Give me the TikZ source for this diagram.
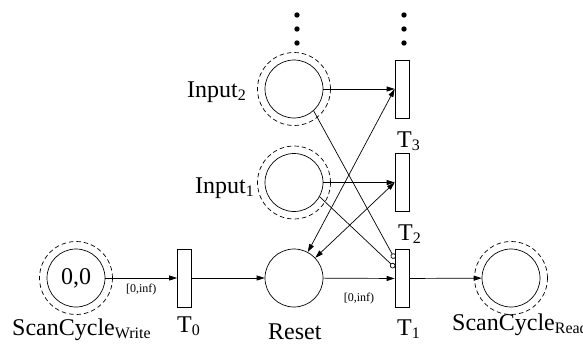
\documentclass[tikz,border=0pt]{standalone}
\usepackage{fontspec}
\setmainfont{Liberation Serif}
\usetikzlibrary{positioning, arrows.meta}

\newcommand{\pnsub}[1]{\raisebox{-3.5pt}{\fontsize{16}{18}\selectfont #1}}

\begin{document}
\begin{tikzpicture}[
      x=1pt, y=-1pt,
      font=\fontsize{24}{28}\selectfont,
      place/.style={circle, draw, minimum size=58pt, inner sep=0pt, line width=0.7pt},
      trans/.style={rectangle, draw, minimum width=14pt, minimum height=58pt,
      inner sep=0pt, line width=0.7pt},
      ring/.style={draw, dashed, dash pattern=on 4.5pt off 3pt, line width=0.7pt},
      arcline/.style={draw, -{Triangle[length=8pt, width=5pt]}, line width=0.7pt},
      biline/.style={arcline, {Triangle[length=8pt, width=5pt]}-{Triangle[length=8pt, width=5pt]}},
      inhib/.style={draw, -{Circle[open, length=5.5pt]}, line width=0.7pt},
      lbl/.style={inner sep=0pt, anchor=base west},
      delay/.style={font=\fontsize{12}{14}\selectfont, inner sep=0pt}
    ]
    \useasboundingbox (0,0) rectangle (583,343);

    % places
    \node [place] (sw) at (76,278) {0,0};
    \node [place] (input2) at (294,89) {};
    \node [place] (input1) at (294,182.5) {};
    \node [place] (reset) at (294,278) {};
    \node [place] (sr) at (511,278) {};
    \draw [ring] (sw) circle[radius=36.5pt];
    \draw [ring] (input2) circle[radius=36.5pt];
    \draw [ring] (input1) circle[radius=36.5pt];
    \draw [ring] (sr) circle[radius=36.5pt];

    % transitions
    \node [trans] (t0) at (184.5,278) {};
    \node [trans] (t1) at (402,278.5) {};
    \node [trans] (t2) at (402,182.5) {};
    \node [trans] (t3) at (402,89) {};

    % labels
    \node [lbl] (swlbl) at (12,335) {ScanCycle\pnsub{Write}};
    \node [lbl] (srlbl) at (452,330) {ScanCycle\pnsub{Read}};
    \node [lbl] (resetlbl) at (268,339) {Reset};
    \node [lbl] (input2lbl) at (187,97) {Input\pnsub{2}};
    \node [lbl] (input1lbl) at (195,193) {Input\pnsub{1}};
    \node [lbl] (t0lbl) at (177,332) {T\pnsub{0}};
    \node [lbl] (t1lbl) at (397,335) {T\pnsub{1}};
    \node [lbl] (t2lbl) at (398,240) {T\pnsub{2}};
    \node [lbl] (t3lbl) at (397,147) {T\pnsub{3}};

    % more inputs above
    \foreach \x in {297,404}
      \foreach \y in {15,29,43}
        \fill (\x,\y) circle[radius=2.7pt];

    \path [arcline] (sw) -- node [delay, yshift=-11.5pt] (d0) {[0,inf)} (t0);
    \path [arcline] (t0) -- (reset);
    \path [arcline] (reset) -- node [delay, yshift=-20.5pt] (d1) {[0,inf)} (t1);
    \path [arcline] (t1) -- (sr);
    \path [arcline] (input2) -- (t3);
    \path [arcline] (input1) -- (t2);
    \path [biline] (t3.west) -- (reset);
    \path [biline] (t2.west) -- (reset);
    \path [inhib] (input2.-48) -- ([yshift=20pt]t1.west);
    \path [inhib] (input1.-29) -- ([yshift=11pt]t1.west);
  \end{tikzpicture}
\end{document}
